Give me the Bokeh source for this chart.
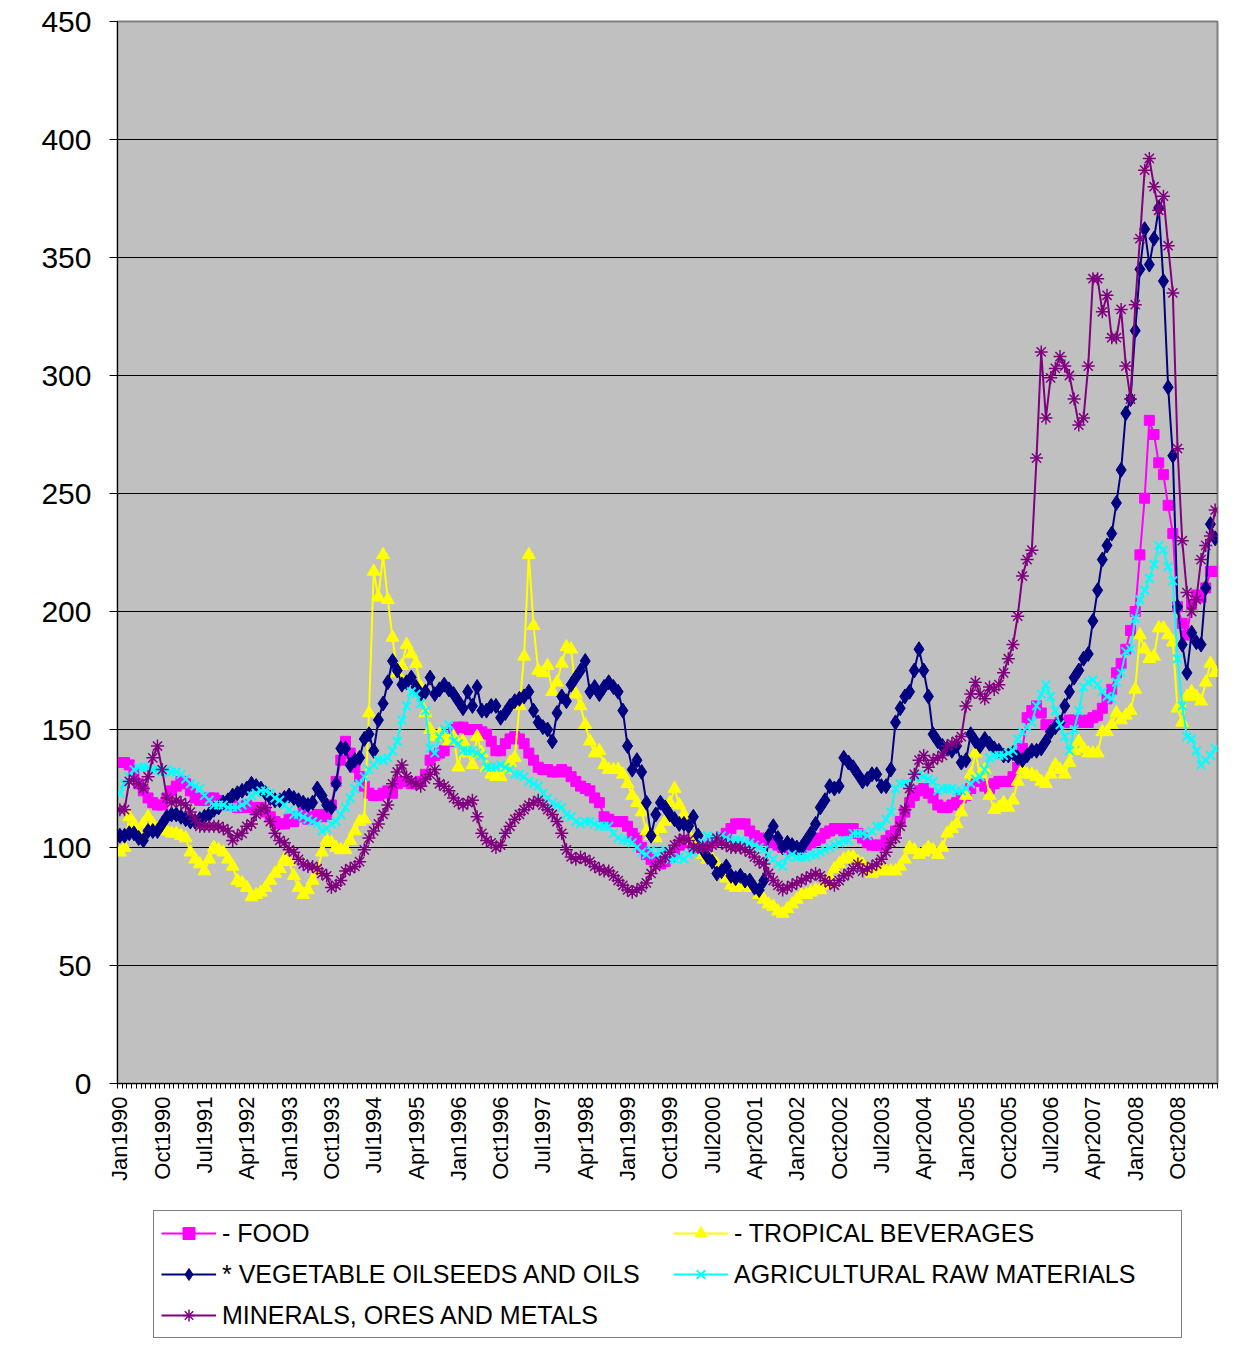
import math
from bokeh.plotting import figure
from bokeh.layouts import column
from bokeh.models import (Range1d, FixedTicker, Legend, LegendItem)
from bokeh.embed import file_html
from bokeh.resources import INLINE

month_names = ["Jan", "Feb", "Mar", "Apr", "May", "Jun", "Jul", "Aug", "Sep", "Oct", "Nov", "Dec"]
years = list(range(1990, 2010))
months = [f"{m}{y}" for y in years for m in month_names][:234]

food = [
    136, 136, 135, 131, 127, 124, 121, 119, 118, 118, 121, 124,
    126, 128, 127, 124, 121, 120, 120, 121, 121, 120, 119, 118,
    118, 117, 117, 118, 117, 116, 117, 115, 113, 111, 110, 110,
    112, 111, 113, 115, 112, 113, 114, 113, 114, 118, 128, 137,
    145, 140, 134, 130, 126, 123, 122, 122, 123, 124, 123, 127,
    128, 128, 127, 127, 128, 131, 137, 139, 140, 141, 145, 150,
    151, 151, 150, 150, 150, 149, 148, 145, 141, 141, 144, 146,
    147, 146, 144, 140, 137, 134, 133, 133, 132, 132, 133, 132,
    130, 128, 126, 125, 124, 121, 119, 113, 112, 111, 111, 111,
    109, 106, 104, 100, 97, 95, 94, 93, 94, 96, 98, 101,
    103, 102, 101, 100, 100, 101, 102, 103, 104, 106, 108, 110,
    110, 110, 107, 105, 104, 103, 103, 102, 101, 100, 100, 99,
    99, 100, 101, 102, 103, 104, 106, 107, 108, 108, 107, 108,
    108, 106, 104, 102, 101, 101, 101, 103, 105, 107, 111, 115,
    119, 122, 124, 125, 123, 121, 118, 117, 117, 118, 119, 121,
    122, 125, 128, 128, 126, 125, 127, 128, 128, 128, 130, 134,
    142, 155, 158, 160, 157, 152, 151, 152, 153, 153, 154, 154,
    153, 154, 153, 155, 156, 159, 163, 167, 174, 178, 184, 192,
    200, 224, 248, 281, 275, 263, 258, 245, 233, 202, 195, 190,
    203, 207, 206, 210, 217, 217,
]

tropical = [
    98, 100, 113, 110, 106, 110, 113, 110, 108, 107, 107, 106,
    106, 105, 104, 98, 95, 93, 90, 95, 100, 99, 98, 95,
    92, 86, 85, 83, 79, 80, 81, 83, 86, 89, 91, 95,
    94, 88, 83, 80, 82, 86, 90, 98, 103, 102, 100, 99,
    99, 103, 107, 111, 112, 157, 217, 206, 224, 205, 189, 174,
    177, 186, 182, 178, 168, 157, 150, 147, 148, 147, 145, 147,
    134, 145, 140, 135, 147, 140, 134, 131, 130, 130, 133, 136,
    138, 160, 181, 224, 194, 175, 174, 177, 166, 170, 178, 185,
    184, 165, 160, 152, 145, 140, 141, 135, 133, 133, 133, 131,
    127, 122, 119, 115, 107, 105, 104, 108, 111, 119, 125, 118,
    114, 110, 103, 100, 97, 95, 95, 93, 90, 87, 84, 83,
    84, 84, 83, 83, 80, 78, 76, 75, 73, 72, 74, 76,
    78, 80, 80, 81, 82, 82, 84, 87, 91, 93, 95, 96,
    96, 94, 93, 91, 89, 90, 91, 90, 90, 90, 92, 95,
    100, 99, 97, 98, 100, 99, 97, 100, 106, 108, 110, 115,
    122, 131, 140, 131, 133, 122, 116, 117, 119, 117, 120, 128,
    133, 131, 131, 130, 128, 127, 131, 135, 133, 131, 136, 141,
    145, 142, 140, 140, 140, 149, 149, 152, 157, 154, 156, 158,
    167, 190, 184, 180, 181, 193, 193, 190, 187, 159, 153, 164,
    166, 164, 162, 170, 178, 174,
]

veg_oils = [
    105, 105, 106, 106, 104, 103, 107, 107, 107, 110, 113, 114,
    114, 113, 112, 111, 111, 112, 113, 114, 116, 117, 119, 120,
    122, 123, 124, 125, 127, 126, 125, 123, 121, 120, 120, 121,
    122, 121, 120, 119, 118, 119, 125, 122, 118, 117, 127, 142,
    142, 135, 137, 138, 146, 148, 141, 154, 161, 170, 179, 175,
    169, 170, 172, 168, 165, 166, 172, 165, 167, 169, 167, 165,
    162, 159, 166, 160, 168, 158, 158, 160, 160, 155, 157, 160,
    162, 163, 164, 166, 158, 153, 151, 150, 145, 157, 164, 162,
    169, 172, 175, 179, 166, 168, 165, 168, 170, 168, 166, 158,
    143, 133, 137, 132, 119, 105, 114, 119, 117, 114, 112, 110,
    110, 109, 113, 105, 99, 96, 94, 89, 90, 92, 88, 87,
    88, 86, 86, 83, 82, 86, 105, 109, 104, 100, 102, 101,
    100, 100, 103, 106, 110, 117, 120, 126, 125, 126, 138, 136,
    134, 131, 128, 129, 131, 131, 126, 126, 133, 153, 159, 164,
    166, 175, 184, 175, 164, 148, 145, 143, 142, 141, 143, 136,
    137, 148, 145, 143, 146, 144, 142, 141, 139, 139, 140, 138,
    137, 139, 141, 141, 142, 145, 149, 151, 153, 160, 166, 172,
    175, 180, 182, 196, 209, 222, 228, 233, 246, 260, 284, 290,
    319, 345, 362, 347, 358, 371, 340, 295, 266, 202, 186, 174,
    191, 187, 186, 210, 237, 231,
]

agri_raw = [
    123, 127, 130, 133, 134, 134, 134, 133, 133, 132, 133, 132,
    132, 131, 129, 127, 126, 125, 122, 120, 118, 118, 118, 117,
    117, 117, 118, 119, 122, 123, 124, 124, 123, 121, 120, 118,
    116, 114, 114, 113, 112, 111, 110, 107, 108, 110, 111, 114,
    117, 121, 125, 127, 130, 133, 135, 137, 137, 138, 141, 145,
    154, 160, 166, 165, 161, 158, 142, 140, 147, 150, 152, 145,
    144, 141, 141, 141, 140, 139, 134, 134, 134, 135, 134, 133,
    131, 131, 130, 128, 127, 126, 123, 121, 119, 118, 117, 114,
    113, 111, 110, 111, 111, 110, 109, 109, 109, 106, 104, 103,
    103, 102, 100, 98, 97, 99, 97, 98, 99, 95, 95, 96,
    95, 97, 98, 100, 102, 105, 104, 104, 105, 104, 103, 103,
    103, 102, 102, 101, 100, 99, 97, 95, 93, 92, 96, 97,
    96, 96, 96, 97, 97, 98, 99, 100, 101, 102, 103, 103,
    106, 106, 106, 105, 107, 109, 109, 112, 115, 125, 127, 127,
    127, 130, 131, 130, 129, 128, 124, 125, 125, 125, 124, 124,
    125, 127, 129, 130, 133, 138, 139, 139, 139, 140, 141, 146,
    149, 151, 153, 160, 165, 169, 164, 158, 152, 147, 141, 150,
    158, 168, 170, 171, 169, 166, 164, 163, 170, 174, 183, 184,
    197, 205, 209, 214, 220, 228, 226, 219, 213, 180, 160, 147,
    146, 141, 135, 137, 139, 142,
]

minerals = [
    116, 116, 128, 129, 127, 125, 130, 138, 143, 133, 121, 119,
    120, 119, 118, 115, 112, 109, 109, 109, 109, 109, 108, 107,
    103, 105, 106, 109, 110, 114, 116, 117, 111, 106, 103, 102,
    99, 98, 95, 93, 92, 92, 91, 89, 88, 83, 84, 86,
    90, 91, 92, 94, 99, 104, 107, 110, 114, 118, 127, 132,
    135, 130, 128, 127, 126, 129, 131, 133, 127, 126, 124, 121,
    119, 118, 119, 120, 113, 106, 103, 102, 100, 101, 106, 109,
    112, 114, 116, 118, 119, 120, 118, 116, 114, 111, 106, 99,
    96, 95, 96, 95, 94, 92, 91, 90, 90, 88, 86, 84,
    82, 81, 82, 83, 85, 89, 92, 94, 96, 98, 101, 103,
    104, 103, 100, 100, 100, 100, 101, 104, 102, 101, 100, 100,
    100, 99, 98, 96, 94, 93, 89, 86, 84, 82, 83, 84,
    85, 86, 87, 88, 89, 88, 86, 85, 84, 86, 88, 89,
    91, 93, 90, 91, 92, 93, 95, 98, 102, 104, 109, 116,
    125, 131, 137, 139, 134, 137, 138, 139, 143, 144, 145, 147,
    160, 165, 170, 165, 163, 168, 167, 169, 174, 180, 186, 198,
    215, 222, 226, 265, 310, 282, 299, 303, 308, 304, 300, 290,
    279, 282, 304, 341, 341, 327, 334, 316, 316, 328, 304, 290,
    330, 358, 387, 392, 380, 370, 376, 355, 335, 269, 230, 208,
    200, 205, 222, 228, 232, 243,
]

series_names = ["- FOOD", "- TROPICAL BEVERAGES", "* VEGETABLE OILSEEDS AND OILS",
                "AGRICULTURAL RAW MATERIALS", "MINERALS, ORES AND METALS"]
y_ticks = [0, 50, 100, 150, 200, 250, 300, 350, 400, 450]
label_step = 9

FONT = "Liberation Sans"
x = list(range(len(months)))

p = figure(frame_width=1100, frame_height=1062, output_backend="svg", toolbar_location=None,
           x_range=Range1d(-0.5, len(months) - 0.5), y_range=Range1d(y_ticks[0], y_ticks[-1]),
           min_border_left=117, min_border_top=21, min_border_right=14, min_border_bottom=102)
p.background_fill_color = "#C0C0C0"
p.border_fill_color = "white"
p.outline_line_color = "#808080"
p.outline_line_width = 2

p.xgrid.grid_line_color = None
p.ygrid.grid_line_color = "black"
p.ygrid.grid_line_width = 1

p.yaxis.ticker = FixedTicker(ticks=y_ticks)
p.yaxis.axis_line_color = "black"
p.yaxis.major_tick_out = 8
p.yaxis.major_tick_in = 0
p.yaxis.minor_tick_line_color = None
p.yaxis.major_label_standoff = 18
p.yaxis.major_label_text_font = FONT
p.yaxis.major_label_text_font_size = "30px"
p.yaxis.major_label_text_color = "black"

tick_pos = list(range(0, len(months), label_step))
p.xaxis.ticker = FixedTicker(ticks=tick_pos, minor_ticks=[i - 0.5 for i in range(len(months) + 1)])
p.xaxis.major_label_overrides = {i: months[i] for i in tick_pos}
p.xaxis.axis_line_color = "black"
p.xaxis.major_tick_line_color = None
p.xaxis.major_tick_out = 5
p.xaxis.major_tick_in = 0
p.xaxis.minor_tick_out = 5
p.xaxis.minor_tick_in = 0
p.xaxis.minor_tick_line_color = "black"
p.xaxis.major_label_orientation = math.pi / 2
p.xaxis.major_label_standoff = 8
p.xaxis.major_label_text_font = FONT
p.xaxis.major_label_text_font_size = "22px"
p.xaxis.major_label_text_color = "black"

styles = [
    (food, "#FF00FF", "square", 10, 1),
    (tropical, "#FFFF00", "triangle", 13, 1),
    (veg_oils, "#000080", "diamond", 15, 1),
    (agri_raw, "#00FFFF", "x", 12, 2),
    (minerals, "#800080", "asterisk", 13, 1.5),
]

# legend panel: a second figure whose view excludes the data, holding only the legend
q = figure(width=1225, height=160, output_backend="svg", toolbar_location=None,
           x_range=Range1d(-1000, -999), y_range=Range1d(-1000, -999), min_border=0)
q.axis.visible = False
q.grid.visible = False
q.outline_line_color = None
q.background_fill_color = "white"
q.border_fill_color = "white"

items = []
for name, (vals, color, marker, size, mlw) in zip(series_names, styles):
    p.line(x, vals, line_color=color, line_width=2)
    p.scatter(x, vals, marker=marker, size=size, fill_color=color, line_color=color, line_width=mlw)
    lr = q.line(x, vals, line_color=color, line_width=2)
    sr = q.scatter(x, vals, marker=marker, size=size, fill_color=color, line_color=color, line_width=mlw)
    items.append(LegendItem(label=name, renderers=[lr, sr]))

legend = Legend(items=items, location=(36, 7), orientation="horizontal", ncols=2,
                label_text_font=FONT, label_text_font_size="25px", label_text_color="black",
                glyph_width=55, glyph_height=30, label_height=30, label_width=440,
                label_standoff=6, spacing=11, padding=7, margin=0,
                border_line_color="black", border_line_width=1,
                background_fill_color="white", background_fill_alpha=1.0)
q.add_layout(legend, "center")

layout = column(p, q, spacing=0)
open("out.html", "w").write(file_html(layout, INLINE))
